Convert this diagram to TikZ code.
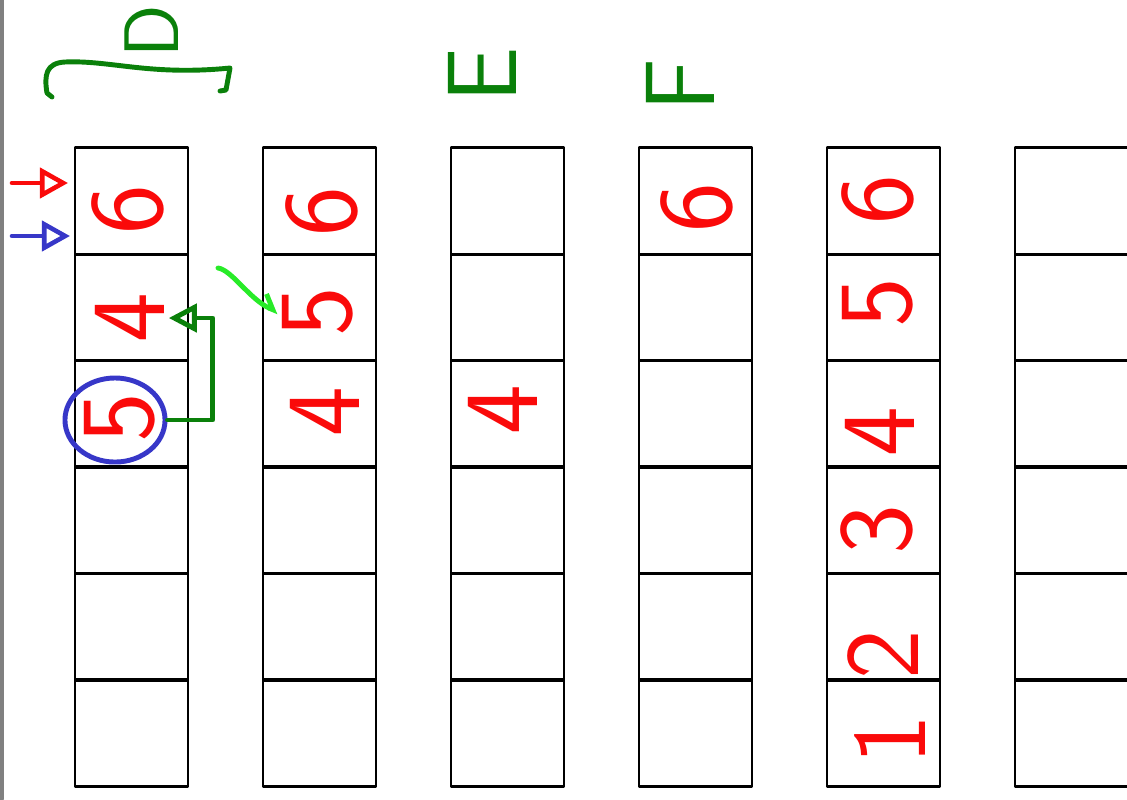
\documentclass[tikz,border=0pt]{standalone}
\usepackage{tikz}
\usetikzlibrary{arrows.meta,shapes.geometric}
\definecolor{penred}{RGB}{250,10,10}
\definecolor{penblue}{RGB}{55,55,200}
\definecolor{pengreen}{RGB}{10,128,10}
\definecolor{penlime}{RGB}{40,235,40}
\begin{document}
\begin{tikzpicture}
[x=0.01cm,y=-0.01cm,line join=round,line cap=round,
 cell/.style={draw=black,line width=0.8pt,minimum width=1.13cm,minimum height=1.063cm,inner sep=0pt,outer sep=0pt},
 digit/.style={text=penred,rotate=90,inner sep=1pt,font=\sffamily\fontsize{30}{30}\selectfont},
 letter/.style={text=pengreen,rotate=90,inner sep=1pt,font=\sffamily\fontsize{28}{28}\selectfont}]
\tikzstyle{pointer}=[line width=1.3pt,-{Triangle[open,length=0.28cm,width=0.3cm]}]
\useasboundingbox (0,0) rectangle (1127,799);
\draw[gray,line width=1.5pt] (1,0) -- (1,799);
% stacks
\foreach \x [count=\i] in {131.5,319.5,507.5,695.5,883.5,1071.5}
  \foreach \y [count=\j] in {201,307.5,413.5,520.5,627,733}
    \node[cell] (c\i-\j) at (\x,\y) {};
% labels
\node[letter,font=\sffamily\fontsize{22}{22}\selectfont] (D) at (152,31) {D};
\node[letter] (E) at (482,75) {E};
\node[letter] (F) at (680,85) {F};
\draw[pengreen,line width=1.4pt] (52,97) -- (47,93) .. controls (44,75) and (46,63) .. (65,62)
  .. controls (110,60) and (150,76) .. (230,68) -- (226,90) -- (220,91);
% contents
\node[digit] (d11) at (128,210) {6};
\node[digit] (d12) at (130,318) {4};
\node[digit] (d13) at (120,418) {5};
\node[digit] (d21) at (322,212) {6};
\node[digit] (d22) at (318,312) {5};
\node[digit] (d23) at (325,412) {4};
\node[digit] (d33) at (503,410) {4};
\node[digit] (d41) at (697,208) {6};
\node[digit] (d51) at (878,200) {6};
\node[digit] (d52) at (878,303) {5};
\node[digit] (d53) at (880,432) {4};
\node[digit] (d54) at (877,530) {3};
\node[digit] (d55) at (883,655) {2};
\node[digit] (d56) at (890,740) {1};
\node[ellipse,draw=penblue,line width=1.4pt,minimum width=1.0cm,minimum height=0.84cm] (ring) at (115,420) {};
% pointers
\coordinate (rp) at (12,183);
\coordinate (bp) at (12,236);
\draw[pointer,penred] (rp) -- ([xshift=-0.07cm]rp -| c1-1.west);
\draw[pointer,penblue] (bp) -- ([xshift=-0.05cm]bp -| c1-1.west);
\draw[pengreen,line width=1.4pt,-{Triangle[open,length=0.28cm,width=0.28cm]}]
  (ring.east) -- ++(45,0) |- (d12.south);
\coordinate (lg) at (218,268);
\draw[penlime,line width=1.4pt,-{Straight Barb[left,length=0.12cm]}]
  (lg) .. controls (232,270) and (250,300) .. (d22.north);
\end{tikzpicture}
\end{document}
